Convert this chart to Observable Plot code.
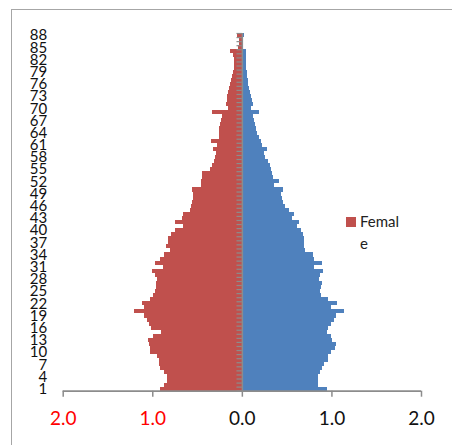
<!DOCTYPE html>
<html>
<head>
<meta charset="utf-8">
<script src="https://cdn.jsdelivr.net/npm/d3@7"></script>
<script src="https://cdn.jsdelivr.net/npm/@observablehq/plot@0.6"></script>
<style>
  html, body { margin: 0; padding: 0; background: #fff; overflow: hidden; }
  #wrap { position: relative; width: 452px; height: 445px; }
  #frame { position: absolute; left: 11px; top: 9px; width: 500px; height: 500px;
           border: 1px solid #a6a6a6; pointer-events: none; z-index: 2; }
  #legend { position: absolute; left: 346px; top: 211px; font-family: Lato, "Open Sans", sans-serif;
            font-size: 15px; line-height: 21.5px; color: #222; z-index: 3; }
  #legend .sw { position: absolute; left: 0; top: 6px; width: 10px; height: 10px; background: #C0504D; }
  #legend .lbl { margin-left: 14px; }
</style>
</head>
<body>
<div id="wrap">
  <div id="chart"></div>
  <div id="frame"></div>
  <div id="legend"><span class="sw"></span><div class="lbl">Femal<br>e</div></div>
</div>
<script>
const ages = d3.range(1, 89);
const female = [
  0.91, 0.87, 0.84, 0.84, 0.87, 0.91, 0.92, 0.93, 0.95, 1.03,
  1.03, 1.04, 1.05, 0.99, 0.90, 1.01, 1.04, 1.06, 1.09, 1.20,
  1.09, 1.11, 1.03, 0.99, 0.97, 0.96, 0.96, 0.95, 0.97, 1.00,
  0.88, 0.97, 0.91, 0.87, 0.80, 0.85, 0.83, 0.82, 0.79, 0.75,
  0.66, 0.75, 0.67, 0.66, 0.58, 0.57, 0.56, 0.55, 0.55, 0.56,
  0.46, 0.46, 0.45, 0.44, 0.35, 0.33, 0.31, 0.30, 0.29, 0.32,
  0.28, 0.34, 0.26, 0.25, 0.25, 0.24, 0.23, 0.22, 0.33, 0.16,
  0.18, 0.17, 0.17, 0.16, 0.14, 0.13, 0.12, 0.11, 0.10, 0.09,
  0.09, 0.09, 0.10, 0.13, 0.04, 0.03, 0.03, 0.05
];
const male = [
  0.95, 0.85, 0.85, 0.85, 0.87, 0.90, 0.92, 0.96, 0.96, 1.00,
  1.04, 1.05, 1.01, 1.00, 0.95, 0.96, 1.00, 1.03, 1.05, 1.14,
  1.00, 1.06, 0.96, 0.88, 0.87, 0.88, 0.90, 0.86, 0.87, 0.91,
  0.80, 0.89, 0.80, 0.79, 0.71, 0.69, 0.69, 0.69, 0.68, 0.66,
  0.62, 0.64, 0.56, 0.58, 0.53, 0.48, 0.46, 0.45, 0.44, 0.46,
  0.36, 0.42, 0.35, 0.34, 0.33, 0.31, 0.29, 0.26, 0.25, 0.28,
  0.23, 0.21, 0.19, 0.17, 0.16, 0.15, 0.14, 0.13, 0.19, 0.10,
  0.12, 0.11, 0.10, 0.09, 0.08, 0.07, 0.07, 0.06, 0.06, 0.05,
  0.05, 0.05, 0.045, 0.045, 0.015, 0.015, 0.015, 0.02
];
const yTicks = d3.range(1, 89, 3);
const xTicks = [-2, -1, 0, 1, 2];
const xTickLabels = ["2.0", "1.0", "0.0", "1.0", "2.0"];

const FEMALE_COLOR = "#C0504D";
const MALE_COLOR = "#4F81BD";
const AXIS_COLOR = "#8c8c8c";
const CAT_TICK_LEN = 0.06; // category tick length in x units

const rows = [];
ages.forEach((a, i) => {
  rows.push({age: a, sex: "Female", v: -female[i]});
  rows.push({age: a, sex: "Male", v: male[i]});
});
const boundaries = d3.range(0.5, 89, 1);
const labelOf = new Map(xTicks.map((t, i) => [t, xTickLabels[i]]));

const chart = Plot.plot({
  width: 452,
  height: 445,
  marginLeft: 62.7,
  marginRight: 31,
  marginTop: 33,
  marginBottom: 54.3,
  style: {fontFamily: "Lato, 'Open Sans', sans-serif", background: "transparent", color: "#222"},
  x: {domain: [-2, 2], axis: null, label: null},
  y: {domain: [0.5, 88.5], axis: null, label: null},
  marks: [
    Plot.rectX(rows, {
      x1: 0, x2: "v",
      y1: d => d.age - 0.5, y2: d => d.age + 0.5,
      fill: d => d.sex === "Female" ? FEMALE_COLOR : MALE_COLOR,
      shapeRendering: "crispEdges"
    }),
    Plot.ruleY(boundaries, {x1: -CAT_TICK_LEN, x2: 0, stroke: AXIS_COLOR, strokeWidth: 1.2}),
    Plot.ruleX([0], {stroke: AXIS_COLOR, strokeWidth: 1.5}),
    Plot.ruleY([0.5], {stroke: AXIS_COLOR, strokeWidth: 1.8}),
    Plot.axisY({ticks: yTicks, anchor: "left", tickSize: 0, tickPadding: 16, fontSize: 15, fill: "#111", label: null}),
    Plot.axisX({ticks: xTicks, anchor: "bottom", tickSize: 6, text: null, label: null, stroke: AXIS_COLOR, strokeWidth: 1.5}),
    Plot.axisX({ticks: xTicks.filter(t => t < 0), anchor: "bottom", tickSize: 0, tickPadding: 20, label: null,
      tickFormat: t => labelOf.get(t), fontSize: 19, fill: "#ff0000"}),
    Plot.axisX({ticks: xTicks.filter(t => t >= 0), anchor: "bottom", tickSize: 0, tickPadding: 20, label: null,
      tickFormat: t => labelOf.get(t), fontSize: 19, fill: "#111"})
  ]
});
document.getElementById("chart").appendChild(chart);
</script>
</body>
</html>
